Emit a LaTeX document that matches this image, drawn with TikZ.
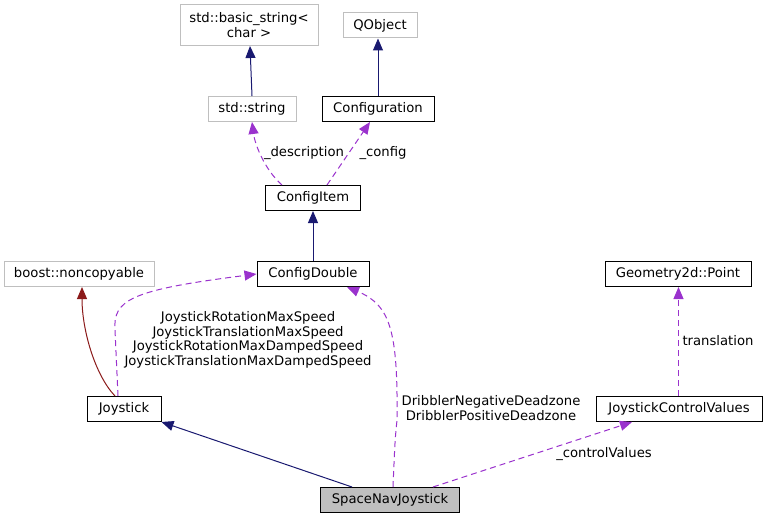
\documentclass[tikz,border=0pt]{standalone}
\usepackage{fontspec}
\setmainfont{DejaVu Sans}
\usepackage{tikz}
\usetikzlibrary{arrows.meta,positioning}
\definecolor{dxnavy}{HTML}{191970}
\definecolor{dxpurple}{HTML}{9A32CD}
\definecolor{dxred}{HTML}{8B1A1A}
\definecolor{dxgrey}{HTML}{BFBFBF}
\tikzset{
  cls/.style={draw=black,fill=white,line width=1pt,minimum height=25pt,inner xsep=8pt,inner ysep=2pt,font=\fontsize{13.2}{14.5}\selectfont,align=center},
  extcls/.style={cls,draw=dxgrey},
  curcls/.style={cls,fill=dxgrey},
  lbl/.style={font=\fontsize{13.2}{14.5}\selectfont,align=center,inner sep=0pt},
  inh/.style={-{Triangle[length=12pt,width=10pt]},line width=1pt,draw=dxnavy},
  privinh/.style={inh,draw=dxred},
  usg/.style={-{Triangle[length=12pt,width=10pt]},line width=1pt,draw=dxpurple,dash pattern=on 6pt off 4pt},
}
\begin{document}
\begin{tikzpicture}[x=1pt,y=-1pt]
  \useasboundingbox (0,0) rectangle (766,519);
  % classes
  \node[extcls,minimum width=138pt,minimum height=41pt,inner xsep=4pt] (bstr) at (249,25) {std::basic\_string<\\char >};
  \node[extcls,minimum width=74pt] (qobj) at (380,25.5) {QObject};
  \node[extcls,minimum width=88pt] (sstr) at (252,109) {std::string};
  \node[cls,minimum width=112pt] (conf) at (378,109) {Configuration};
  \node[cls,minimum width=95pt] (citem) at (313,198) {ConfigItem};
  \node[cls,minimum width=112pt] (cdbl) at (313,274) {ConfigDouble};
  \node[extcls,minimum width=150pt] (nocopy) at (79,274) {boost::noncopyable};
  \node[cls,minimum width=146pt] (gpt) at (678,274) {Geometry2d::Point};
  \node[cls,minimum width=74pt] (joy) at (124,409) {Joystick};
  \node[cls,minimum width=166pt] (jcv) at (679,409) {JoystickControlValues};
  \node[curcls,minimum width=139pt] (snj) at (390,500) {SpaceNavJoystick};
  % inheritance
  \draw[inh] (sstr.north) -- ([xshift=1pt]bstr.south);
  \draw[inh] (conf.north) -- (conf.north |- qobj.south);
  \draw[inh] (cdbl) -- (citem);
  \draw[privinh] ([xshift=-9pt]joy.north) .. controls (95,375) and (82,330) .. ([xshift=3pt]nocopy.south);
  \draw[inh] ([xshift=-38pt]snj.north) -- (joy.south east);
  % usage
  \draw[usg] ([xshift=-31pt]citem.north) .. controls (265,170) and (255,145) .. (sstr.south);
  \draw[usg] ([xshift=14pt]citem.north) -- ([xshift=-8pt]conf.south);
  \draw[usg] ([xshift=-6pt]joy.north) -- (115,330) .. controls (113,300) and (130,290) .. (cdbl.west);
  \draw[usg] ([xshift=3pt]snj.north) .. controls (395,440) .. (397,420) .. controls (398,330) and (390,305) .. ([xshift=34pt]cdbl.south);
  \draw[usg] ([xshift=43pt]snj.north) -- ([xshift=-47pt]jcv.south);
  \draw[usg] ([xshift=-0.5pt]jcv.north) -- ([xshift=-0.5pt]jcv.north |- gpt.south);
  % labels
  \node[lbl] (ldesc) at (304,153) {\_description};
  \node[lbl] (lconf) at (383,153) {\_config};
  \node[lbl] (lspeed) at (248,340) {JoystickRotationMaxSpeed\\JoystickTranslationMaxSpeed\\JoystickRotationMaxDampedSpeed\\JoystickTranslationMaxDampedSpeed};
  \node[lbl] (ldead) at (491,408) {DribblerNegativeDeadzone\\DribblerPositiveDeadzone};
  \node[lbl] (lctrl) at (604,454) {\_controlValues};
  \node[lbl] (ltrans) at (718,341) {translation};
\end{tikzpicture}
\end{document}
